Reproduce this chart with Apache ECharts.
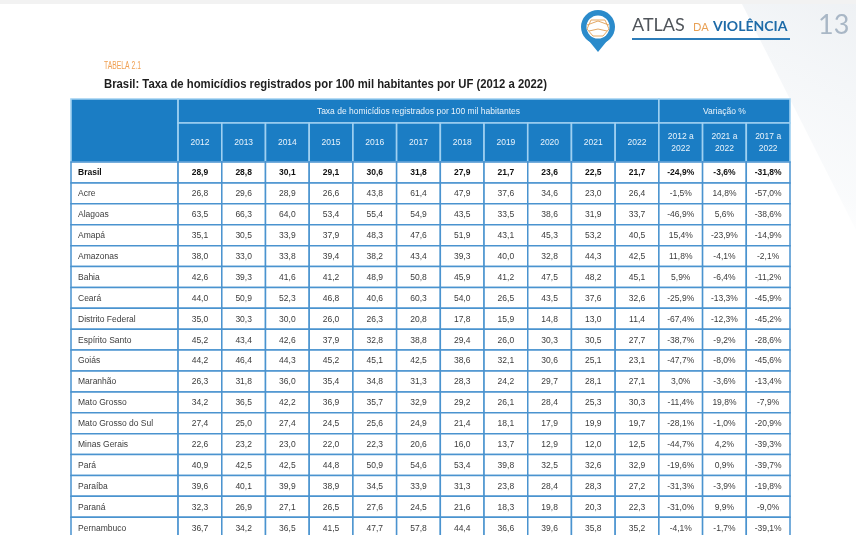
<!DOCTYPE html>
<html><head><meta charset="utf-8">
<script src="https://cdn.jsdelivr.net/npm/echarts@6/dist/echarts.min.js"></script>
<style>html,body{margin:0;padding:0;background:#fff}#c{width:856px;height:535px}</style>
</head><body><div id="c"></div>
<script>
// ---------- DATA ----------
const years = ['2012','2013','2014','2015','2016','2017','2018','2019','2020','2021','2022'];
const variationHeaders = ['2012 a\n2022','2021 a\n2022','2017 a\n2022'];
const groupHeaders = ['Taxa de homicídios registrados por 100 mil habitantes','Variação %'];
const regions = ['Brasil','Acre','Alagoas','Amapá','Amazonas','Bahia','Ceará','Distrito Federal','Espírito Santo','Goiás','Maranhão','Mato Grosso','Mato Grosso do Sul','Minas Gerais','Pará','Paraíba','Paraná','Pernambuco'];
const rate2012 = [28.9,26.8,63.5,35.1,38.0,42.6,44.0,35.0,45.2,44.2,26.3,34.2,27.4,22.6,40.9,39.6,32.3,36.7];
const rate2013 = [28.8,29.6,66.3,30.5,33.0,39.3,50.9,30.3,43.4,46.4,31.8,36.5,25.0,23.2,42.5,40.1,26.9,34.2];
const rate2014 = [30.1,28.9,64.0,33.9,33.8,41.6,52.3,30.0,42.6,44.3,36.0,42.2,27.4,23.0,42.5,39.9,27.1,36.5];
const rate2015 = [29.1,26.6,53.4,37.9,39.4,41.2,46.8,26.0,37.9,45.2,35.4,36.9,24.5,22.0,44.8,38.9,26.5,41.5];
const rate2016 = [30.6,43.8,55.4,48.3,38.2,48.9,40.6,26.3,32.8,45.1,34.8,35.7,25.6,22.3,50.9,34.5,27.6,47.7];
const rate2017 = [31.8,61.4,54.9,47.6,43.4,50.8,60.3,20.8,38.8,42.5,31.3,32.9,24.9,20.6,54.6,33.9,24.5,57.8];
const rate2018 = [27.9,47.9,43.5,51.9,39.3,45.9,54.0,17.8,29.4,38.6,28.3,29.2,21.4,16.0,53.4,31.3,21.6,44.4];
const rate2019 = [21.7,37.6,33.5,43.1,40.0,41.2,26.5,15.9,26.0,32.1,24.2,26.1,18.1,13.7,39.8,23.8,18.3,36.6];
const rate2020 = [23.6,34.6,38.6,45.3,32.8,47.5,43.5,14.8,30.3,30.6,29.7,28.4,17.9,12.9,32.5,28.4,19.8,39.6];
const rate2021 = [22.5,23.0,31.9,53.2,44.3,48.2,37.6,13.0,30.5,25.1,28.1,25.3,19.9,12.0,32.6,28.3,20.3,35.8];
const rate2022 = [21.7,26.4,33.7,40.5,42.5,45.1,32.6,11.4,27.7,23.1,27.1,30.3,19.7,12.5,32.9,27.2,22.3,35.2];
const var2012to2022 = [-24.9,-1.5,-46.9,15.4,11.8,5.9,-25.9,-67.4,-38.7,-47.7,3.0,-11.4,-28.1,-44.7,-19.6,-31.3,-31.0,-4.1];
const var2021to2022 = [-3.6,14.8,5.6,-23.9,-4.1,-6.4,-13.3,-12.3,-9.2,-8.0,-3.6,19.8,-1.0,4.2,0.9,-3.9,9.9,-1.7];
const var2017to2022 = [-31.8,-57.0,-38.6,-14.9,-2.1,-11.2,-45.9,-45.2,-28.6,-45.6,-13.4,-7.9,-20.9,-39.3,-39.7,-19.8,-9.0,-39.1];
const tableLabel = 'TABELA 2.1';
const tableTitle = 'Brasil: Taxa de homicídios registrados por 100 mil habitantes por UF (2012 a 2022)';

// ---------- BUILD TABLE CELLS ----------
const rateCols = [rate2012,rate2013,rate2014,rate2015,rate2016,rate2017,rate2018,rate2019,rate2020,rate2021,rate2022];
const varCols = [var2012to2022,var2021to2022,var2017to2022];
const NAME_W = 2.45, H1 = 1.15, H2 = 1.87;
const fmt = v => v.toFixed(1).replace('.', ',');
const fmtPct = v => fmt(v) + '%';

const cells = [];
cells.push({x0:-NAME_W, x1:0, y0:-(H1+H2), y1:0, text:'', kind:'head'});
cells.push({x0:0, x1:years.length, y0:-(H1+H2), y1:-H2, text:groupHeaders[0], kind:'head'});
cells.push({x0:years.length, x1:years.length+varCols.length, y0:-(H1+H2), y1:-H2, text:groupHeaders[1], kind:'head'});
years.forEach((y,i)=>cells.push({x0:i, x1:i+1, y0:-H2, y1:0, text:y, kind:'head'}));
variationHeaders.forEach((t,j)=>cells.push({x0:years.length+j, x1:years.length+j+1, y0:-H2, y1:0, text:t, kind:'head'}));
regions.forEach((name,r)=>{
  const bold = r === 0;
  cells.push({x0:-NAME_W, x1:0, y0:r, y1:r+1, text:name, kind:'name', bold});
  rateCols.forEach((col,i)=>cells.push({x0:i, x1:i+1, y0:r, y1:r+1, text:fmt(col[r]), kind:'val', bold}));
  varCols.forEach((col,j)=>cells.push({x0:years.length+j, x1:years.length+j+1, y0:r, y1:r+1, text:fmtPct(col[r]), kind:'val', bold}));
});

const BODY_FONT = "'Liberation Sans','Noto Sans',sans-serif";

const chart = echarts.init(document.getElementById('c'), null, {renderer:'canvas'});
chart.setOption({
  animation:false,
  backgroundColor:'#ffffff',
  graphic:[
    {type:'polygon', silent:true, z:-10, shape:{points:[[740,0],[856,0],[856,230]]},
     style:{fill:new echarts.graphic.LinearGradient(1,0,0,1,[{offset:0,color:'#eef1f4'},{offset:0.7,color:'rgba(246,248,250,0.6)'},{offset:1,color:'rgba(255,255,255,0)'}])}},
    {type:'rect', silent:true, z:-9, shape:{x:0,y:0,width:856,height:4}, style:{fill:'#f2f2f2'}},
    // titles
    {type:'text', x:104, y:66, scaleX:0.68, style:{x:0, y:0, text:tableLabel, fill:'#f0a052', fontSize:10, fontFamily:BODY_FONT, verticalAlign:'middle'}},
    {type:'text', x:104, y:84, scaleX:0.87, style:{x:0, y:0, text:tableTitle, fill:'#1e1e1e', fontSize:13, fontWeight:'bold', fontFamily:BODY_FONT, verticalAlign:'middle'}},
    // logo pin
    {type:'polygon', shape:{points:[[585,36],[611,36],[598,52]]}, style:{fill:'#2b8bcb'}},
    {type:'circle', shape:{cx:598, cy:27, r:17}, style:{fill:'#2b8bcb'}},
    {type:'circle', shape:{cx:598, cy:27, r:11.5}, style:{fill:'#ffffff'}},
    {type:'polygon', shape:{points:[[591,20],[605,20],[609,29],[603,36],[593,36],[587,29]]}, style:{fill:'none', stroke:'#e3a865', lineWidth:1}},
    {type:'polyline', shape:{points:[[587,25],[598,21],[609,25]]}, style:{fill:'none', stroke:'#e3a865', lineWidth:1}},
    {type:'polyline', shape:{points:[[589,31],[598,29],[607,31]]}, style:{fill:'none', stroke:'#e3a865', lineWidth:1}},
    {type:'text', style:{x:632, y:25, text:'ATLAS', fill:'#50555b', fontSize:18, fontFamily:'Lato, sans-serif', verticalAlign:'middle'}},
    {type:'text', style:{x:693, y:27, text:'DA', fill:'#e9a156', fontSize:11, fontFamily:'Lato, sans-serif', verticalAlign:'middle'}},
    {type:'text', style:{x:713, y:26, text:'VIOLÊNCIA', fill:'#1e6ba8', fontSize:14, fontWeight:'bold', fontFamily:'Lato, sans-serif', verticalAlign:'middle'}},
    {type:'line', shape:{x1:632, y1:39, x2:790, y2:39}, style:{stroke:'#2c7cb9', lineWidth:2}},
    {type:'text', style:{x:818, y:25, text:'13', fill:'#a9b7c6', fontSize:27, fontFamily:'Lato, sans-serif', verticalAlign:'middle'}}
  ],
  grid:{left:71, right:66, top:99, bottom:0, containLabel:false},
  xAxis:{type:'value', min:-NAME_W, max:years.length+varCols.length, show:false, splitLine:{show:false}},
  yAxis:{type:'value', min:-(H1+H2), max:17.85, inverse:true, show:false, splitLine:{show:false}},
  series:[{
    type:'custom',
    coordinateSystem:'cartesian2d',
    clip:false,
    silent:true,
    encode:{x:[0,2], y:[1,3]},
    data:cells.map(c=>[c.x0,c.y0,c.x1,c.y1]),
    renderItem:function(params, api){
      const c = cells[params.dataIndex];
      const p0 = api.coord([api.value(0), api.value(1)]);
      const p1 = api.coord([api.value(2), api.value(3)]);
      const x = Math.min(p0[0],p1[0]), y = Math.min(p0[1],p1[1]);
      const w = Math.abs(p1[0]-p0[0]), h = Math.abs(p1[1]-p0[1]);
      const head = c.kind === 'head';
      const children = [{
        type:'rect', shape:{x:x, y:y, width:w, height:h},
        style:{fill: head ? '#1b7dc4' : '#ffffff', stroke: head ? '#9fd0f1' : '#4a93cf', lineWidth: head ? 1.6 : 1.5}
      }];
      if (c.text) {
        children.push({
          type:'text',
          style:{
            x: c.kind === 'name' ? x + 7 : x + w/2,
            y: y + h/2 + 0.5,
            text: c.text,
            align: c.kind === 'name' ? 'left' : 'center',
            verticalAlign:'middle',
            lineHeight: 12,
            fill: head ? '#e8f3fb' : (c.bold ? '#111111' : '#3c3c3c'),
            fontSize: 8.5,
            fontWeight: c.bold ? 'bold' : 'normal',
            fontFamily: BODY_FONT
          }
        });
      }
      return {type:'group', children:children};
    }
  }]
});
</script>
</body></html>
